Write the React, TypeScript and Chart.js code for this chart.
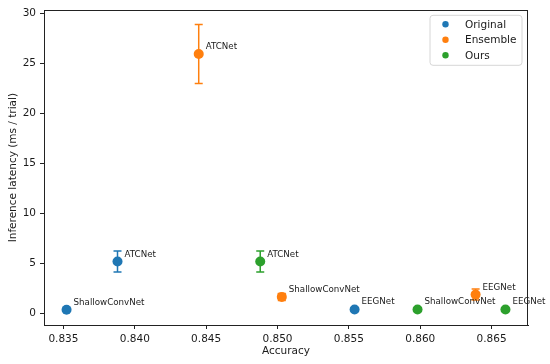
import React, { useEffect, useRef } from "react";
import Chart from "chart.js/auto";

const seriesNames = ["Original", "Ensemble", "Ours"];
const seriesColors = ["#1f77b4", "#ff7f0e", "#2ca02c"];
const modelNames = ["ShallowConvNet", "ATCNet", "EEGNet"];

const originalAcc = [0.83522, 0.83879, 0.8554];
const originalLat = [0.34, 5.15, 0.36];
const originalErr = [0.05, 1.05, 0.05];

const ensembleAcc = [0.8503, 0.84448, 0.86388];
const ensembleLat = [1.62, 25.9, 1.85];
const ensembleErr = [0.35, 2.95, 0.55];

const oursAcc = [0.85981, 0.84879, 0.86597];
const oursLat = [0.36, 5.15, 0.36];
const oursErr = [0.05, 1.05, 0.05];

const xTicks = [0.835, 0.84, 0.845, 0.85, 0.855, 0.86, 0.865];
const yTicks = [0, 5, 10, 15, 20, 25, 30];

const xMin = 0.83364;
const xMax = 0.86755;
const yMin = -1.19;
const yMax = 30.27;

const FONT = "'DejaVu Sans', sans-serif";

function buildPoints(acc: number[], lat: number[], err: number[]) {
  return acc.map((a, i) => ({ x: a, y: lat[i], err: err[i], label: modelNames[i] }));
}

export default function App() {
  const ref = useRef<HTMLCanvasElement | null>(null);

  useEffect(() => {
    document.body.style.margin = "0";
    const canvas = ref.current;
    if (!canvas) return;

    const allSeries = [
      buildPoints(originalAcc, originalLat, originalErr),
      buildPoints(ensembleAcc, ensembleLat, ensembleErr),
      buildPoints(oursAcc, oursLat, oursErr),
    ];

    const errorBars = {
      id: "errorBars",
      beforeDatasetsDraw(chart: any) {
        const ctx = chart.ctx;
        const xs = chart.scales.x;
        const ys = chart.scales.y;
        chart.data.datasets.forEach((ds: any, di: number) => {
          ctx.save();
          ctx.strokeStyle = seriesColors[di];
          ctx.lineWidth = 1.5;
          ds.data.forEach((p: any) => {
            const px = xs.getPixelForValue(p.x);
            const top = ys.getPixelForValue(p.y + p.err);
            const bot = ys.getPixelForValue(p.y - p.err);
            ctx.beginPath();
            ctx.moveTo(px, top);
            ctx.lineTo(px, bot);
            ctx.moveTo(px - 4, top);
            ctx.lineTo(px + 4, top);
            ctx.moveTo(px - 4, bot);
            ctx.lineTo(px + 4, bot);
            ctx.stroke();
          });
          ctx.restore();
        });
      },
    };

    const pointLabels = {
      id: "pointLabels",
      afterDatasetsDraw(chart: any) {
        const ctx = chart.ctx;
        const xs = chart.scales.x;
        const ys = chart.scales.y;
        ctx.save();
        ctx.font = `8.7px ${FONT}`;
        ctx.fillStyle = "#1a1a1a";
        ctx.textAlign = "left";
        ctx.textBaseline = "alphabetic";
        chart.data.datasets.forEach((ds: any) => {
          ds.data.forEach((p: any) => {
            const px = xs.getPixelForValue(p.x);
            const py = ys.getPixelForValue(p.y);
            ctx.fillText(p.label, px + 7, py - 5);
          });
        });
        ctx.restore();
      },
    };

    const frameAndLegend = {
      id: "frameAndLegend",
      afterDraw(chart: any) {
        const ctx = chart.ctx;
        const a = chart.chartArea;
        ctx.save();
        ctx.strokeStyle = "#222";
        ctx.lineWidth = 1;
        ctx.strokeRect(Math.round(a.left) + 0.5, Math.round(a.top) + 0.5, Math.round(a.right - a.left) - 1, Math.round(a.bottom - a.top));
        // legend
        const bw = 92;
        const bh = 50;
        const bx = a.right - 6 - bw;
        const by = a.top + 5;
        const r = 3;
        ctx.beginPath();
        ctx.moveTo(bx + r, by);
        ctx.lineTo(bx + bw - r, by);
        ctx.arcTo(bx + bw, by, bx + bw, by + r, r);
        ctx.lineTo(bx + bw, by + bh - r);
        ctx.arcTo(bx + bw, by + bh, bx + bw - r, by + bh, r);
        ctx.lineTo(bx + r, by + bh);
        ctx.arcTo(bx, by + bh, bx, by + bh - r, r);
        ctx.lineTo(bx, by + r);
        ctx.arcTo(bx, by, bx + r, by, r);
        ctx.closePath();
        ctx.fillStyle = "rgba(255,255,255,0.8)";
        ctx.fill();
        ctx.strokeStyle = "#d6d6d6";
        ctx.stroke();
        ctx.font = `10.5px ${FONT}`;
        ctx.textAlign = "left";
        ctx.textBaseline = "middle";
        seriesNames.forEach((name, i) => {
          const cy = by + 9 + i * 15.5;
          ctx.beginPath();
          ctx.arc(bx + 15.5, cy, 3.2, 0, Math.PI * 2);
          ctx.fillStyle = seriesColors[i];
          ctx.fill();
          ctx.fillStyle = "#1a1a1a";
          ctx.fillText(name, bx + 35, cy + 0.5);
        });
        ctx.restore();
      },
    };

    const chart = new Chart(canvas, {
      type: "scatter",
      data: {
        datasets: allSeries.map((pts, i) => ({
          label: seriesNames[i],
          data: pts,
          backgroundColor: seriesColors[i],
          borderColor: seriesColors[i],
          borderWidth: 0,
          pointRadius: 5,
          pointHoverRadius: 5,
        })),
      },
      options: {
        responsive: false,
        animation: false,
        layout: { padding: { left: 0, top: 9, right: 22, bottom: 0 } },
        plugins: {
          legend: { display: false },
          tooltip: { enabled: false },
        },
        scales: {
          x: {
            type: "linear",
            min: xMin,
            max: xMax,
            afterFit(scale: any) {
              scale.height = 39;
            },
            afterBuildTicks(scale: any) {
              scale.ticks = xTicks.map((v) => ({ value: v }));
            },
            grid: {
              display: true,
              drawOnChartArea: false,
              drawTicks: true,
              tickLength: 4,
              color: "#222",
            },
            border: { display: true, color: "#222" },
            ticks: {
              padding: 4,
              color: "#1a1a1a",
              font: { family: FONT, size: 10.5 },
              maxRotation: 0,
              callback: (v: any) => Number(v).toFixed(3),
            },
            title: {
              display: true,
              text: "Accuracy",
              color: "#1a1a1a",
              font: { family: FONT, size: 10.5 },
              padding: { top: 0, bottom: 6.7 },
            },
          },
          y: {
            type: "linear",
            min: yMin,
            max: yMax,
            afterFit(scale: any) {
              scale.width = 44;
            },
            afterBuildTicks(scale: any) {
              scale.ticks = yTicks.map((v) => ({ value: v }));
            },
            grid: {
              display: true,
              drawOnChartArea: false,
              drawTicks: true,
              tickLength: 4,
              color: "#222",
            },
            border: { display: true, color: "#222" },
            ticks: {
              padding: 4,
              color: "#1a1a1a",
              font: { family: FONT, size: 10.5 },
              callback: (v: any) => String(v),
            },
            title: {
              display: true,
              text: "Inference latency (ms / trial)",
              color: "#1a1a1a",
              font: { family: FONT, size: 10.5 },
              padding: { top: 6.7, bottom: 0 },
            },
          },
        },
      },
      plugins: [errorBars, pointLabels, frameAndLegend],
    } as any);

    return () => chart.destroy();
  }, []);

  return (
    <div style={{ width: 550, height: 364 }}>
      <canvas ref={ref} width={550} height={364} />
    </div>
  );
}
